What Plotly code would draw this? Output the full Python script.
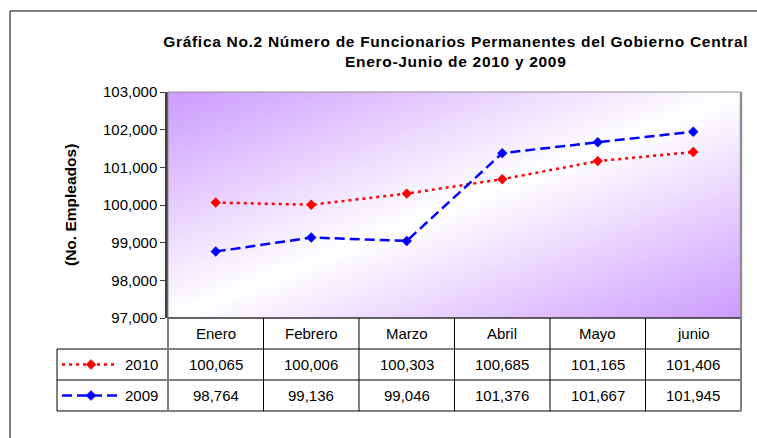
import plotly.graph_objects as go
import numpy as np

# ---------------- data ----------------
months = ["Enero", "Febrero", "Marzo", "Abril", "Mayo", "junio"]
series_names = ["2010", "2009"]
values_2010 = [100065, 100006, 100303, 100685, 101165, 101406]
values_2009 = [98764, 99136, 99046, 101376, 101667, 101945]
y_ticks = [97000, 98000, 99000, 100000, 101000, 102000, 103000]
title_lines = ["Gráfica No.2 Número de Funcionarios Permanentes del Gobierno Central",
               "Enero-Junio de 2010 y 2009"]
y_title = "(No. Empleados)"

# ---------------- layout geometry (pixels) ----------------
W, H = 757, 438
PL, PR, PT, PB = 168, 741, 92, 318   # plot area box
ROW_H = 31
TABLE_LEFT = 57
FONT = "Liberation Sans, Arial, sans-serif"

pw, ph = PR - PL, PB - PT
def X(px):
    return (px - PL) / pw
def Y(py):
    return (PB - py) / ph

n = len(months)
xi = list(range(n))
ymin, ymax = y_ticks[0], y_ticks[-1]

fig = go.Figure()

# gradient background (purple -> white -> purple along the diagonal)
N = 60
gx = np.linspace(-0.55, n - 0.45, N)
gy = np.linspace(ymin - 50, ymax + 50, N)
u = np.linspace(0, 1, N)[None, :]
v = 1 - np.linspace(0, 1, N)[:, None]
gz = (u + v) / 2
fig.add_trace(go.Heatmap(x=gx, y=gy, z=gz, zsmooth="best", showscale=False,
                         colorscale=[[0, "#CC99FF"], [0.5, "#FFFFFF"], [1, "#CC99FF"]],
                         zmin=0, zmax=1, hoverinfo="skip"))

styles = {
    "2010": dict(color="#FF0000", dash="3px,4px"),
    "2009": dict(color="#0000FF", dash="10px,5px"),
}
data = {"2010": values_2010, "2009": values_2009}

for name in series_names:
    st = styles[name]
    fig.add_trace(go.Scatter(x=xi, y=data[name], mode="lines+markers", name=name,
                             line=dict(color=st["color"], width=2.5, dash=st["dash"]),
                             marker=dict(symbol="diamond", size=8, color=st["color"]),
                             showlegend=False))

shapes = []
annotations = []

# outer chart border
shapes.append(dict(type="rect", xref="paper", yref="paper", x0=X(10), x1=X(W + 6),
                   y0=Y(H + 6), y1=Y(11), line=dict(color="#000000", width=1)))
# plot area border
shapes.append(dict(type="rect", xref="paper", yref="paper", x0=0, x1=1, y0=0, y1=1,
                   line=dict(color="#909090", width=1)))
shapes.append(dict(type="line", xref="paper", yref="paper", x0=1, x1=1, y0=0, y1=1,
                   line=dict(color="#909090", width=2.5)))

# table grid
table_bottom = PB + 3 * ROW_H
shapes.append(dict(type="line", xref="paper", yref="paper", x0=0, x1=1, y0=Y(PB), y1=Y(PB),
                   line=dict(color="#000000", width=1.2)))
for r in (1, 2, 3):
    yy = Y(PB + r * ROW_H)
    shapes.append(dict(type="line", xref="paper", yref="paper", x0=X(TABLE_LEFT), x1=1,
                       y0=yy, y1=yy, line=dict(color="#000000", width=1)))
shapes.append(dict(type="line", xref="paper", yref="paper", x0=X(TABLE_LEFT), x1=X(TABLE_LEFT),
                   y0=Y(PB + ROW_H), y1=Y(table_bottom), line=dict(color="#000000", width=1)))
for xb in (0, 1):
    shapes.append(dict(type="line", xref="paper", yref="paper", x0=xb, x1=xb,
                       y0=Y(PB), y1=Y(table_bottom), line=dict(color="#808080", width=2)))
for i in range(n - 1):
    shapes.append(dict(type="line", xref="x", yref="paper", x0=i + 0.5, x1=i + 0.5,
                       y0=Y(PB), y1=Y(table_bottom), line=dict(color="#000000", width=1)))

txt_font = dict(size=15, color="#000000", family=FONT)

# header row (categories)
for i, m in enumerate(months):
    annotations.append(dict(x=i, y=Y(PB + ROW_H / 2), xref="x", yref="paper", text=m,
                            xanchor="center", yanchor="middle", showarrow=False, font=txt_font))

# value rows + legend keys
for r, name in enumerate(series_names):
    yc = Y(PB + ROW_H * (r + 1) + ROW_H / 2)
    for i, val in enumerate(data[name]):
        annotations.append(dict(x=i, y=yc, xref="x", yref="paper", text=f"{val:,}",
                                xanchor="center", yanchor="middle", showarrow=False, font=txt_font))
    st = styles[name]
    shapes.append(dict(type="line", xref="paper", yref="paper", x0=X(62), x1=X(118), y0=yc, y1=yc,
                       line=dict(color=st["color"], width=2.5, dash=st["dash"])))
    cx = X(91)
    dw, dh = 5 / pw, 5 / ph
    shapes.append(dict(type="path", xref="paper", yref="paper",
                       path=f"M {cx},{yc + dh} L {cx + dw},{yc} L {cx},{yc - dh} L {cx - dw},{yc} Z",
                       fillcolor=st["color"], line=dict(color=st["color"], width=0.5)))
    annotations.append(dict(x=X(160), y=yc, xref="paper", yref="paper", text=name,
                            xanchor="right", yanchor="middle", showarrow=False, font=txt_font))

# y-axis title
annotations.append(dict(x=X(70), y=Y((PT + PB) / 2), xref="paper", yref="paper", text=f"<b>{y_title}</b>",
                        textangle=-90, xanchor="center", yanchor="middle", showarrow=False,
                        font=dict(size=15.5, color="#000000", family=FONT)))

# chart title (two centred lines)
annotations.append(dict(x=X(455), y=Y(52), xref="paper", yref="paper",
                        text="<b>" + "<br>".join(title_lines) + "</b>", showarrow=False,
                        xanchor="center", yanchor="middle", align="center",
                        font=dict(size=15.5, color="#000000", family=FONT)))

fig.update_layout(
    width=W, height=H,
    margin=dict(l=PL, r=W - PR, t=PT, b=H - PB, pad=0),
    paper_bgcolor="#FFFFFF", plot_bgcolor="#FFFFFF",
    xaxis=dict(range=[-0.5, n - 0.5], showticklabels=False, showgrid=False, zeroline=False,
               showline=False, ticks=""),
    yaxis=dict(range=[ymin, ymax], tickvals=y_ticks, tickformat=",", ticks="outside", ticklen=5,
               tickcolor="#404040", tickwidth=1, showline=True, linecolor="#404040", linewidth=2.5,
               showgrid=False, zeroline=False,
               tickfont=dict(size=15, color="#000000", family=FONT)),
    shapes=shapes, annotations=annotations,
    font=dict(family=FONT),
)

post = """
document.documentElement.style.margin='0';
document.body.style.margin='0';
document.body.style.padding='0';
document.body.style.overflow='hidden';
var t = document.querySelectorAll('.annotation-text');
t.forEach(function(el){ if (el.textContent.indexOf('Gráfica') >= 0) { el.setAttribute('letter-spacing','0.7px'); el.style.letterSpacing='0.7px'; } });
"""
fig.write_html("out.html", post_script=post, config={"displayModeBar": False})
